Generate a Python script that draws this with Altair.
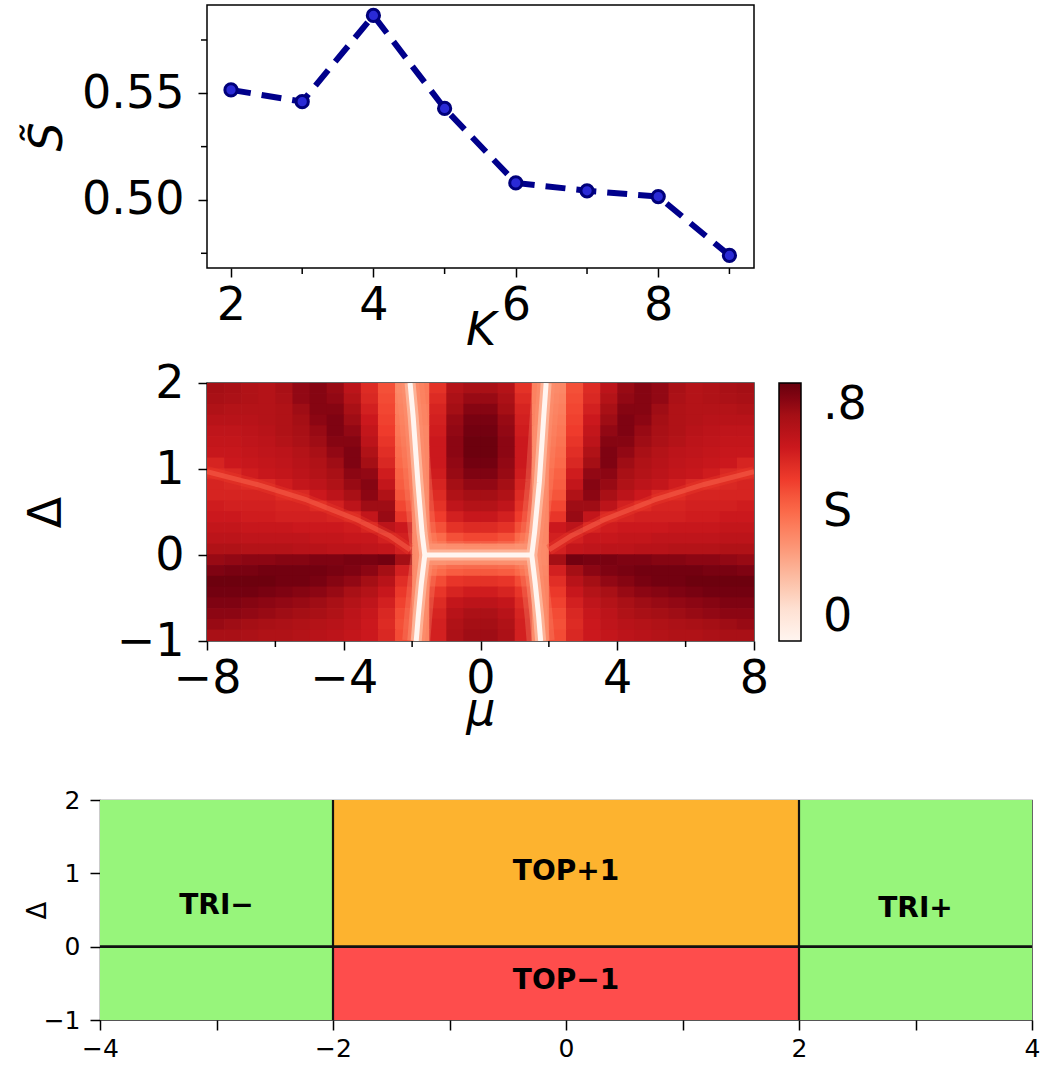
import altair as alt
import pandas as pd

FONT = "DejaVu Sans"

# ---------------- panel (a): S~ vs K ----------------
K_VALUES = [2, 3, 4, 5, 6, 7, 8, 9]
S_TILDE = [0.5516, 0.5461, 0.5865, 0.5429, 0.5080, 0.5043, 0.5016, 0.4740]
K_MAJOR = [2, 4, 6, 8]
K_MINOR = [3, 5, 7, 9]
S_MAJOR = [0.50, 0.55]
S_MINOR = [0.475, 0.525, 0.575]

# ---------------- panel (b): S(mu, Delta) heat map ----------------
MU_EDGES = [-8.0, -7.5, -7.0, -6.5, -6.0, -5.5, -5.0, -4.5, -4.0, -3.5, -3.0, -2.5,
            -2.0, -1.5, -1.0, -0.5, 0.0, 0.5, 1.0, 1.5, 2.0, 2.5, 3.0, 3.5, 4.0,
            4.5, 5.0, 5.5, 6.0, 6.5, 7.0, 7.5, 8.0]
DELTA_EDGES = [2.0, 1.875, 1.75, 1.625, 1.5, 1.375, 1.25, 1.125, 1.0, 0.875, 0.75, 0.625, 0.5,
               0.375, 0.25, 0.125, 0.0, -0.125, -0.25, -0.375, -0.5, -0.625, -0.75, -0.875, -1.0]

S_R01 = [0.70, 0.69, 0.67, 0.66, 0.69, 0.73, 0.75, 0.72, 0.64, 0.55, 0.46, 0.33, 0.36, 0.53, 0.66, 0.69,
         0.69, 0.66, 0.53, 0.36, 0.33, 0.46, 0.55, 0.64, 0.72, 0.75, 0.73, 0.69, 0.66, 0.67, 0.69, 0.70]
S_R02 = [0.69, 0.68, 0.67, 0.66, 0.68, 0.73, 0.75, 0.73, 0.66, 0.56, 0.47, 0.34, 0.36, 0.55, 0.68, 0.72,
         0.72, 0.68, 0.55, 0.36, 0.34, 0.47, 0.56, 0.66, 0.73, 0.75, 0.73, 0.68, 0.66, 0.67, 0.68, 0.69]
S_R03 = [0.67, 0.66, 0.66, 0.66, 0.67, 0.71, 0.75, 0.75, 0.69, 0.58, 0.48, 0.35, 0.35, 0.57, 0.70, 0.75,
         0.75, 0.70, 0.57, 0.35, 0.35, 0.48, 0.58, 0.69, 0.75, 0.75, 0.71, 0.67, 0.66, 0.66, 0.66, 0.67]
S_R04 = [0.65, 0.65, 0.65, 0.66, 0.67, 0.70, 0.74, 0.76, 0.71, 0.60, 0.49, 0.36, 0.35, 0.58, 0.72, 0.77,
         0.77, 0.72, 0.58, 0.35, 0.36, 0.49, 0.60, 0.71, 0.76, 0.74, 0.70, 0.67, 0.66, 0.65, 0.65, 0.65]
S_R05 = [0.63, 0.63, 0.64, 0.65, 0.67, 0.69, 0.72, 0.76, 0.73, 0.62, 0.50, 0.37, 0.34, 0.59, 0.73, 0.78,
         0.78, 0.73, 0.59, 0.34, 0.37, 0.50, 0.62, 0.73, 0.76, 0.72, 0.69, 0.67, 0.65, 0.64, 0.63, 0.63]
S_R06 = [0.62, 0.62, 0.63, 0.64, 0.66, 0.68, 0.71, 0.75, 0.75, 0.64, 0.52, 0.38, 0.34, 0.60, 0.74, 0.79,
         0.79, 0.74, 0.60, 0.34, 0.38, 0.52, 0.64, 0.75, 0.75, 0.71, 0.68, 0.66, 0.64, 0.63, 0.62, 0.62]
S_R07 = [0.61, 0.61, 0.62, 0.63, 0.64, 0.66, 0.69, 0.73, 0.76, 0.67, 0.54, 0.39, 0.34, 0.60, 0.74, 0.79,
         0.79, 0.74, 0.60, 0.34, 0.39, 0.54, 0.67, 0.76, 0.73, 0.69, 0.66, 0.64, 0.63, 0.62, 0.61, 0.61]
S_R08 = [0.57, 0.60, 0.61, 0.62, 0.63, 0.65, 0.67, 0.71, 0.76, 0.70, 0.56, 0.40, 0.34, 0.60, 0.73, 0.78,
         0.78, 0.73, 0.60, 0.34, 0.40, 0.56, 0.70, 0.76, 0.71, 0.67, 0.65, 0.63, 0.62, 0.61, 0.60, 0.57]
S_R09 = [0.55, 0.56, 0.59, 0.61, 0.62, 0.64, 0.66, 0.69, 0.74, 0.73, 0.59, 0.42, 0.34, 0.59, 0.72, 0.76,
         0.76, 0.72, 0.59, 0.34, 0.42, 0.59, 0.73, 0.74, 0.69, 0.66, 0.64, 0.62, 0.61, 0.59, 0.56, 0.55]
S_R10 = [0.57, 0.56, 0.55, 0.56, 0.59, 0.62, 0.64, 0.67, 0.72, 0.75, 0.62, 0.43, 0.34, 0.57, 0.70, 0.73,
         0.73, 0.70, 0.57, 0.34, 0.43, 0.62, 0.75, 0.72, 0.67, 0.64, 0.62, 0.59, 0.56, 0.55, 0.56, 0.57]
S_R11 = [0.57, 0.57, 0.57, 0.57, 0.55, 0.56, 0.60, 0.64, 0.69, 0.74, 0.67, 0.45, 0.34, 0.55, 0.67, 0.70,
         0.70, 0.67, 0.55, 0.34, 0.45, 0.67, 0.74, 0.69, 0.64, 0.60, 0.56, 0.55, 0.57, 0.57, 0.57, 0.57]
S_R12 = [0.59, 0.58, 0.58, 0.58, 0.57, 0.57, 0.55, 0.58, 0.64, 0.71, 0.71, 0.48, 0.34, 0.53, 0.63, 0.66,
         0.66, 0.63, 0.53, 0.34, 0.48, 0.71, 0.71, 0.64, 0.58, 0.55, 0.57, 0.57, 0.58, 0.58, 0.58, 0.59]
S_R13 = [0.60, 0.60, 0.59, 0.59, 0.58, 0.58, 0.58, 0.57, 0.56, 0.62, 0.72, 0.52, 0.34, 0.50, 0.58, 0.61,
         0.61, 0.58, 0.50, 0.34, 0.52, 0.72, 0.62, 0.56, 0.57, 0.58, 0.58, 0.58, 0.59, 0.59, 0.60, 0.60]
S_R14 = [0.62, 0.62, 0.61, 0.61, 0.61, 0.60, 0.60, 0.60, 0.59, 0.57, 0.64, 0.60, 0.34, 0.46, 0.53, 0.55,
         0.55, 0.53, 0.46, 0.34, 0.60, 0.64, 0.57, 0.59, 0.60, 0.60, 0.60, 0.61, 0.61, 0.61, 0.62, 0.62]
S_R15 = [0.64, 0.64, 0.63, 0.63, 0.63, 0.63, 0.62, 0.62, 0.61, 0.61, 0.58, 0.58, 0.34, 0.40, 0.46, 0.48,
         0.48, 0.46, 0.40, 0.34, 0.58, 0.58, 0.61, 0.61, 0.62, 0.62, 0.63, 0.63, 0.63, 0.63, 0.64, 0.64]
S_R16 = [0.67, 0.67, 0.66, 0.66, 0.66, 0.65, 0.65, 0.64, 0.64, 0.63, 0.62, 0.58, 0.33, 0.30, 0.32, 0.33,
         0.33, 0.32, 0.30, 0.33, 0.58, 0.62, 0.63, 0.64, 0.64, 0.65, 0.65, 0.66, 0.66, 0.66, 0.67, 0.67]
S_R17 = [0.72, 0.73, 0.74, 0.74, 0.75, 0.75, 0.76, 0.76, 0.77, 0.77, 0.78, 0.70, 0.33, 0.30, 0.32, 0.33,
         0.33, 0.32, 0.30, 0.33, 0.70, 0.78, 0.77, 0.77, 0.76, 0.76, 0.75, 0.75, 0.74, 0.74, 0.73, 0.72]
S_R18 = [0.76, 0.77, 0.77, 0.78, 0.78, 0.78, 0.78, 0.77, 0.76, 0.74, 0.70, 0.58, 0.34, 0.40, 0.43, 0.44,
         0.44, 0.43, 0.40, 0.34, 0.58, 0.70, 0.74, 0.76, 0.77, 0.78, 0.78, 0.78, 0.78, 0.77, 0.77, 0.76]
S_R19 = [0.79, 0.79, 0.79, 0.79, 0.78, 0.78, 0.77, 0.75, 0.73, 0.70, 0.65, 0.54, 0.35, 0.47, 0.52, 0.53,
         0.53, 0.52, 0.47, 0.35, 0.54, 0.65, 0.70, 0.73, 0.75, 0.77, 0.78, 0.78, 0.79, 0.79, 0.79, 0.79]
S_R20 = [0.78, 0.78, 0.78, 0.77, 0.76, 0.75, 0.74, 0.72, 0.69, 0.66, 0.61, 0.51, 0.35, 0.52, 0.57, 0.59,
         0.59, 0.57, 0.52, 0.35, 0.51, 0.61, 0.66, 0.69, 0.72, 0.74, 0.75, 0.76, 0.77, 0.78, 0.78, 0.78]
S_R21 = [0.76, 0.76, 0.75, 0.74, 0.73, 0.72, 0.71, 0.69, 0.66, 0.63, 0.58, 0.49, 0.35, 0.55, 0.62, 0.64,
         0.64, 0.62, 0.55, 0.35, 0.49, 0.58, 0.63, 0.66, 0.69, 0.71, 0.72, 0.73, 0.74, 0.75, 0.76, 0.76]
S_R22 = [0.74, 0.74, 0.73, 0.72, 0.71, 0.70, 0.69, 0.67, 0.64, 0.61, 0.56, 0.47, 0.35, 0.57, 0.65, 0.68,
         0.68, 0.65, 0.57, 0.35, 0.47, 0.56, 0.61, 0.64, 0.67, 0.69, 0.70, 0.71, 0.72, 0.73, 0.74, 0.74]
S_R23 = [0.72, 0.71, 0.70, 0.69, 0.68, 0.67, 0.66, 0.65, 0.63, 0.60, 0.55, 0.46, 0.35, 0.58, 0.67, 0.70,
         0.70, 0.67, 0.58, 0.35, 0.46, 0.55, 0.60, 0.63, 0.65, 0.66, 0.67, 0.68, 0.69, 0.70, 0.71, 0.72]
S_R24 = [0.69, 0.69, 0.68, 0.67, 0.67, 0.66, 0.65, 0.64, 0.62, 0.60, 0.56, 0.47, 0.35, 0.58, 0.68, 0.71,
         0.71, 0.68, 0.58, 0.35, 0.47, 0.56, 0.60, 0.62, 0.64, 0.65, 0.66, 0.67, 0.67, 0.68, 0.69, 0.69]
S_ROWS = [S_R01, S_R02, S_R03, S_R04, S_R05, S_R06, S_R07, S_R08, S_R09, S_R10, S_R11, S_R12,
          S_R13, S_R14, S_R15, S_R16, S_R17, S_R18, S_R19, S_R20, S_R21, S_R22, S_R23, S_R24]

WHITE_V_D = [2.0, 1.61, 0.84, 0.26, 0.0, -0.33, -0.71, -1.0]
WHITE_L_MU = [-2.06, -1.97, -1.83, -1.71, -1.63, -1.73, -1.82, -1.88]
WHITE_R_MU = [1.92, 1.85, 1.72, 1.58, 1.50, 1.60, 1.70, 1.76]
WHITE_H_MU = [-1.63, 1.50]
WHITE_H_D = [0.0, 0.0]
RAY_L_MU = [-8.0, -6.54, -5.08, -3.61, -2.64, -2.05]
RAY_R_MU = [8.0, 6.54, 5.08, 3.61, 2.64, 2.0]
RAY_D = [0.97, 0.82, 0.64, 0.41, 0.22, 0.06]

MU_MAJOR = [-8, -4, 0, 4, 8]
MU_MINOR = [-6, -2, 2, 6]
D_TICKS = [-1, 0, 1, 2]
CBAR_TICKS = [0, 0.4, 0.8]
S_RANGE = [0, 0.8]
REDS_COLORS = ["#fff5f0", "#fee0d2", "#fcbba1", "#fc9272", "#fb6a4a",
               "#ef3b2c", "#cb181d", "#a50f15", "#67000d"]

# ---------------- panel (c): phase diagram ----------------
RECT_MU0 = [-4, -2, -2, 2]
RECT_MU1 = [-2, 2, 2, 4]
RECT_D0 = [-1, 0, -1, -1]
RECT_D1 = [2, 2, 0, 2]
RECT_PHASE = ["TRI", "TOP+1", "TOP−1", "TRI"]
PHASE_DOMAIN = ["TRI", "TOP+1", "TOP−1"]
PHASE_COLORS = ["#97f57b", "#fdb32f", "#fe4d4c"]
LABEL_TEXT = ["TRI−", "TOP+1", "TRI+", "TOP−1"]
LABEL_MU = [-3.0, 0.0, 3.0, 0.0]
LABEL_D = [0.55, 1.02, 0.52, -0.47]
BOUND_MU = [-2, 2]
MU3_TICKS = [-4, -3, -2, -1, 0, 1, 2, 3, 4]

BIG = 46

# ======== panel (a) ========
top_df = pd.DataFrame({"K": K_VALUES, "S": S_TILDE})
xk = alt.X("K:Q", scale=alt.Scale(domain=[1.663, 9.345], nice=False, zero=False),
           axis=alt.Axis(values=K_MAJOR, title="K", titleFontStyle="italic",
                         labelFontSize=BIG, titleFontSize=BIG, tickSize=9, tickWidth=1.5,
                         labelPadding=6, titlePadding=-20, labelFlush=False))
ys = alt.Y("S:Q", scale=alt.Scale(domain=[0.4681, 0.5914], nice=False, zero=False),
           axis=alt.Axis(values=S_MAJOR, format=".2f", title="S̃", titleFontStyle="italic",
                         labelFontSize=BIG, titleFontSize=BIG, tickSize=9, tickWidth=1.5,
                         labelPadding=14, titlePadding=10))
line = alt.Chart(top_df).mark_line(color="#00008b", strokeWidth=6, strokeDash=[20, 11]).encode(x=xk, y=ys)
pts = alt.Chart(top_df).mark_point(filled=True, shape="circle", size=150, fill="#2a2ad6",
                                   stroke="#00007a", strokeWidth=3, opacity=1).encode(x=xk, y=ys)
kminor = alt.Chart(pd.DataFrame({"K": K_MINOR})).mark_rule(color="black", strokeWidth=1.5, clip=False).encode(
    x=xk, y=alt.value(263), y2=alt.value(269))
sminor = alt.Chart(pd.DataFrame({"S": S_MINOR})).mark_rule(color="black", strokeWidth=1.5, clip=False).encode(
    y=ys, x=alt.value(0), x2=alt.value(-6))
top = alt.layer(kminor, sminor, line, pts).properties(width=547, height=263)

# ======== panel (b) ========
cells = []
for i, row in enumerate(S_ROWS):
    for j, s in enumerate(row):
        cells.append({"mu0": MU_EDGES[j], "mu1": MU_EDGES[j + 1],
                      "d0": DELTA_EDGES[i + 1], "d1": DELTA_EDGES[i], "s": s})
cells_df = pd.DataFrame(cells)

xm = alt.X("mu0:Q", scale=alt.Scale(domain=[-8, 8], nice=False),
           axis=alt.Axis(values=MU_MAJOR, title="μ", titleFontStyle="italic",
                         labelFontSize=BIG, titleFontSize=BIG, tickSize=9, tickWidth=1.5,
                         labelPadding=6, titlePadding=-13, labelFlush=False))
yd = alt.Y("d0:Q", scale=alt.Scale(domain=[-1, 2], nice=False),
           axis=alt.Axis(values=D_TICKS, title="Δ", labelFontSize=BIG, titleFontSize=BIG,
                         tickSize=9, tickWidth=1.5, labelPadding=14, titlePadding=46, labelFlush=False))
cscale = alt.Scale(type="linear", domain=S_RANGE, range=REDS_COLORS, clamp=True)
heat = alt.Chart(cells_df).mark_rect(strokeWidth=0, x2Offset=0.7, y2Offset=-0.7, clip=True).encode(
    x=xm, x2="mu1:Q", y=yd, y2="d1:Q",
    color=alt.Color("s:Q", scale=cscale,
                    legend=alt.Legend(type="gradient", direction="vertical", title=None,
                                      orient="right", offset=25, values=CBAR_TICKS,
                                      labelExpr="datum.value == 0 ? '0' : (datum.value > 0.7 ? '.8' : 'S')",
                                      gradientLength=258, gradientThickness=22,
                                      gradientStrokeColor="black", gradientStrokeWidth=1.5,
                                      labelFontSize=BIG, labelOffset=22, labelOverlap=False,
                                      labelBaseline="middle", labelColor="black", labelFont=FONT)))

white_rows = []
for k, (m, d) in enumerate(zip(WHITE_L_MU, WHITE_V_D)):
    white_rows.append({"mu0": m, "d0": d, "line": "L", "idx": k})
for k, (m, d) in enumerate(zip(WHITE_R_MU, WHITE_V_D)):
    white_rows.append({"mu0": m, "d0": d, "line": "R", "idx": k})
for k, (m, d) in enumerate(zip(WHITE_H_MU, WHITE_H_D)):
    white_rows.append({"mu0": m, "d0": d, "line": "H", "idx": k})
white_df = pd.DataFrame(white_rows)

ray_rows = []
for k, (m, d) in enumerate(zip(RAY_L_MU, RAY_D)):
    ray_rows.append({"mu0": m, "d0": d, "line": "L", "idx": k})
for k, (m, d) in enumerate(zip(RAY_R_MU, RAY_D)):
    ray_rows.append({"mu0": m, "d0": d, "line": "R", "idx": k})
ray_df = pd.DataFrame(ray_rows)


def path(df, color, width, opacity):
    return alt.Chart(df).mark_line(color=color, strokeWidth=width, opacity=opacity, clip=True,
                                   strokeCap="butt", strokeJoin="round").encode(
        x=xm, y=yd, detail="line:N", order="idx:Q")


rays_a = path(ray_df, "#ef3b2c", 11, 0.35)
rays_b = path(ray_df, "#f7604a", 5, 0.55)
glow0 = path(white_df, "#fc9272", 28, 0.3)
glow1 = path(white_df, "#fc9272", 18, 0.5)
glow2 = path(white_df, "#fcbba1", 11, 0.8)
core = path(white_df, "#fff5f0", 5, 1.0)
muminor = alt.Chart(pd.DataFrame({"mu0": MU_MINOR})).mark_rule(color="black", strokeWidth=1.5, clip=False).encode(
    x=xm, y=alt.value(258), y2=alt.value(264))
mid = alt.layer(heat, rays_a, rays_b, glow0, glow1, glow2, core, muminor).properties(
    width=547, height=258, view=alt.ViewBackground(stroke="#333333", strokeWidth=1.5))

# ======== panel (c) ========
rect_df = pd.DataFrame({"mu0": RECT_MU0, "mu1": RECT_MU1, "d0": RECT_D0, "d1": RECT_D1, "phase": RECT_PHASE})
xc = alt.X("mu0:Q", scale=alt.Scale(domain=[-4, 4], nice=False),
           axis=alt.Axis(values=MU3_TICKS, labelExpr="datum.value % 2 == 0 ? datum.label : ''",
                         title=None, labelFontSize=25, tickSize=10, tickWidth=1.5, labelPadding=6,
                         labelFlush=False))
yc = alt.Y("d0:Q", scale=alt.Scale(domain=[-1, 2], nice=False),
           axis=alt.Axis(values=D_TICKS, title="Δ", labelFontSize=25, titleFontSize=26,
                         tickSize=10, tickWidth=1.5, labelPadding=10, titlePadding=-7, labelFlush=False))
rects = alt.Chart(rect_df).mark_rect().encode(
    x=xc, x2="mu1:Q", y=yc, y2="d1:Q",
    color=alt.Color("phase:N", scale=alt.Scale(domain=PHASE_DOMAIN, range=PHASE_COLORS), legend=None))
vlines = alt.Chart(pd.DataFrame({"mu0": BOUND_MU, "d0": [-1, -1], "d1": [2, 2]})).mark_rule(
    color="#111111", strokeWidth=2.2).encode(x=xc, y=yc, y2="d1:Q")
hline = alt.Chart(pd.DataFrame({"d0": [0]})).mark_rule(color="#111111", strokeWidth=2.6).encode(y=yc)
labels = alt.Chart(pd.DataFrame({"mu0": LABEL_MU, "d0": LABEL_D, "t": LABEL_TEXT})).mark_text(
    fontSize=28, fontWeight="bold", font=FONT, color="black").encode(x=xc, y=yc, text="t:N")
bottom = alt.layer(rects, vlines, hline, labels).properties(
    width=932, height=220, view=alt.ViewBackground(stroke="#555555", strokeWidth=1.2))

spacer = alt.Chart(pd.DataFrame({"a": [0]})).mark_point(opacity=0).encode(
    x=alt.X("a:Q", axis=None), y=alt.Y("a:Q", axis=None)).properties(
    width=1, height=1, view=alt.ViewBackground(stroke="transparent"))

inner = alt.vconcat(top, mid, spacing=5).resolve_scale(color="independent").resolve_legend(color="independent")
row1 = alt.hconcat(spacer, inner, spacing=-82).resolve_scale(color="independent").resolve_legend(color="independent")
chart = alt.vconcat(row1, bottom, spacing=53).resolve_scale(color="independent").resolve_legend(
    color="independent").configure(
    font=FONT, padding={"left": 22, "top": 2, "right": 5, "bottom": 5}
).configure_view(stroke="black", strokeWidth=1.5).configure_axis(
    grid=False, domain=False, tickColor="black", labelColor="black", titleColor="black",
    labelFont=FONT, titleFont=FONT, titleFontWeight="normal")

chart.save("out.html", embed_options={"renderer": "svg", "actions": False})
